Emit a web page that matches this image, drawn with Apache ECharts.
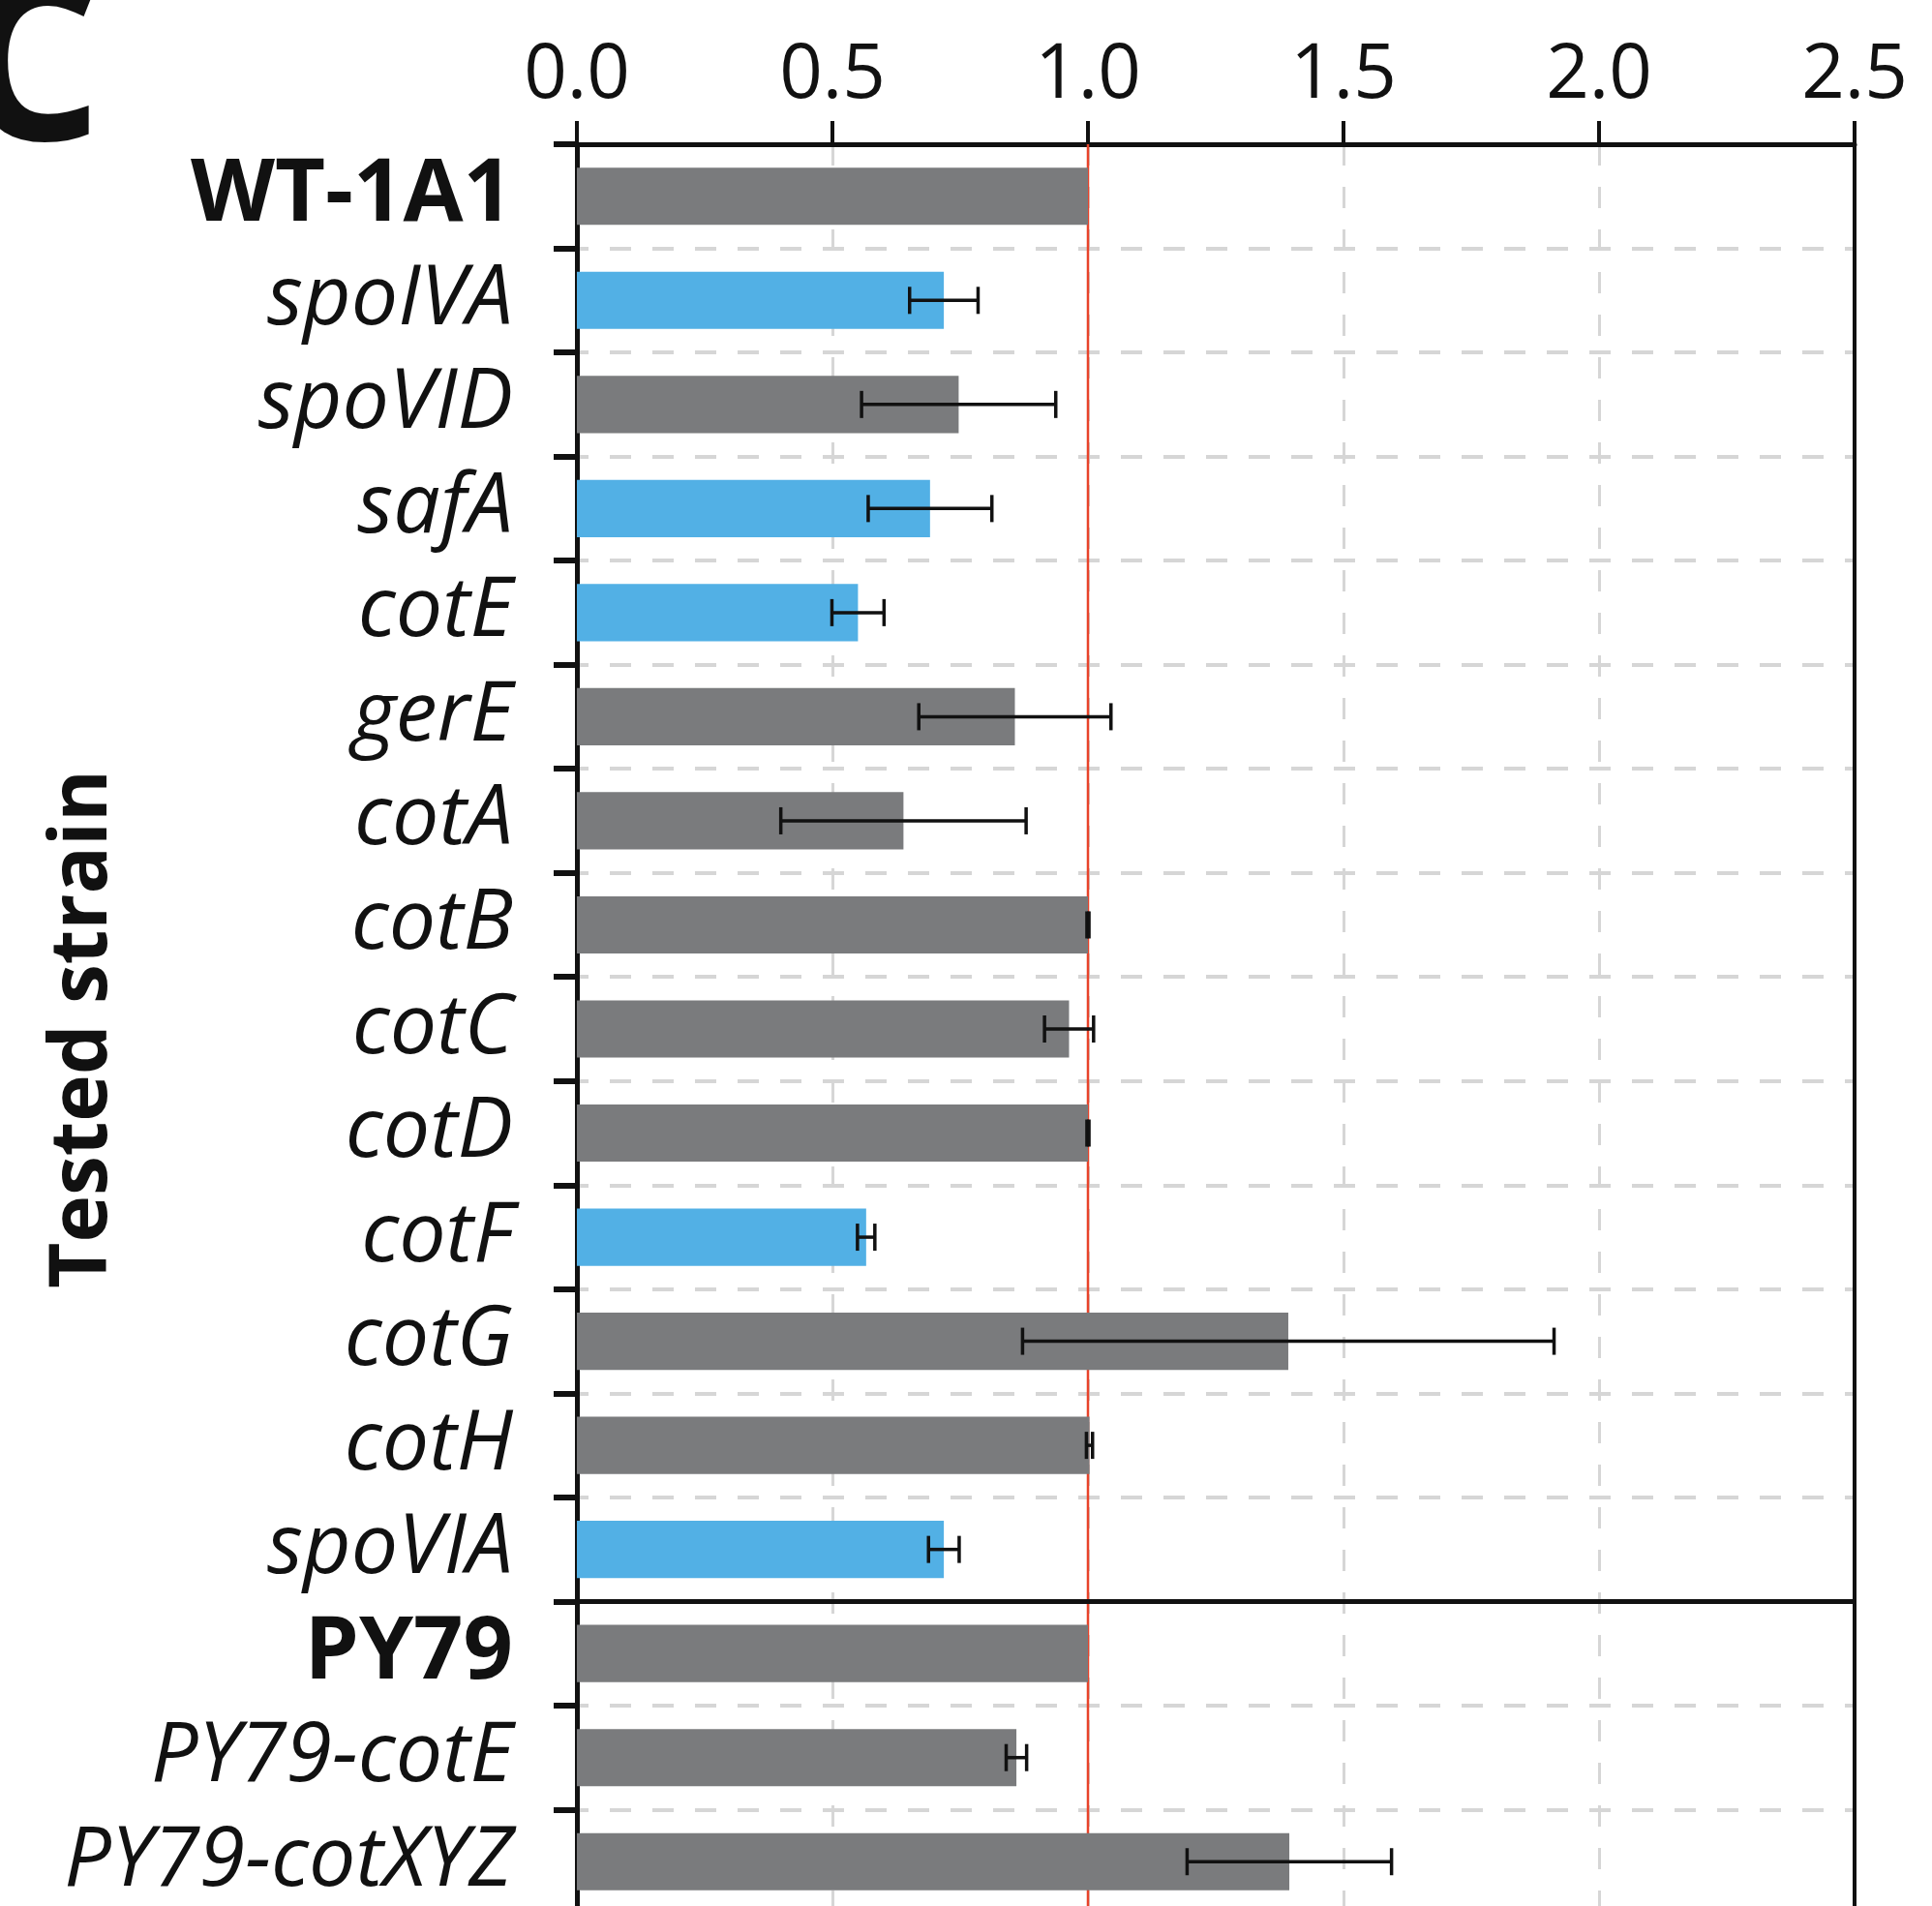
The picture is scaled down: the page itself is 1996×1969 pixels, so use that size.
<!DOCTYPE html>
<html><head><meta charset="utf-8">
<script src="https://cdn.jsdelivr.net/npm/echarts@6/dist/echarts.min.js"></script>
<style>html,body{margin:0;padding:0;background:#fff}#c{width:1996px;height:1969px}</style>
</head><body><div id="c"></div>
<script>
// ---- data ----
const categories = ['WT-1A1','spoIVA','spoVID','safA','cotE','gerE','cotA','cotB','cotC','cotD','cotF','cotG','cotH','spoVIA','PY79','PY79-cotE','PY79-cotXYZ'];
const ratios = [1.0,0.718,0.747,0.691,0.550,0.857,0.639,1.0,0.963,1.0,0.566,1.392,1.003,0.718,1.0,0.860,1.394];
const errors = [0,0.067,0.190,0.121,0.051,0.188,0.240,0.002,0.048,0.002,0.017,0.520,0.006,0.030,0,0.020,0.200];
const highlighted = ['spoIVA','safA','cotE','cotF','spoVIA'];
const boldCategories = ['WT-1A1','PY79'];
const referenceValue = [1.0];
const groupStart = ['PY79'];
const axisMin = 0, axisMax = 2.5, axisStep = 0.5;
const axisTitle = 'Tested strain';
const panelLetter = 'C';

// ---- chart ----
const GRAY = '#7a7b7d', BLUE = '#52b0e5', INK = '#111111', GRID = '#d6d6d6';
const FONT = '"Open Sans", "Noto Sans", sans-serif';
const chart = echarts.init(document.getElementById('c'), null, {renderer: 'canvas'});

const option = {
  animation: false,
  backgroundColor: '#ffffff',
  grid: {left: 596, top: 149, width: 1320, height: 1828, show: false, containLabel: false, outerBoundsMode: 'none'},
  xAxis: {
    type: 'value', position: 'top', min: axisMin, max: axisMax, interval: axisStep,
    axisLine: {show: true, lineStyle: {color: INK, width: 5}},
    axisTick: {show: true, length: 24, lineStyle: {color: INK, width: 4}},
    axisLabel: {margin: 31, color: INK, fontFamily: FONT, fontSize: 78, formatter: v => v.toFixed(1)},
    splitLine: {show: true, showMinLine: false, showMaxLine: false, lineStyle: {color: GRID, width: 3, type: [22, 22]}}
  },
  yAxis: {
    type: 'category', inverse: true, data: categories,
    axisLine: {show: true, lineStyle: {color: INK, width: 5}},
    axisTick: {show: true, length: 24, lineStyle: {color: INK, width: 6}},
    axisLabel: {
      margin: 66, interval: 0,
      formatter: v => boldCategories.includes(v) ? '{b|' + v + '}' : '{i|' + v + '}',
      rich: {
        b: {fontFamily: FONT, fontWeight: 'bold', fontSize: 90, color: INK},
        i: {fontFamily: FONT, fontStyle: 'italic', fontSize: 86, color: INK}
      }
    },
    splitLine: {show: true, lineStyle: {color: GRID, width: 4, type: [22, 22], dashOffset: 10}},
    name: axisTitle, nameLocation: 'middle', nameGap: 468, nameMoveOverlap: false,
    nameTextStyle: {fontFamily: FONT, fontWeight: 'bold', fontSize: 82, color: INK}
  },
  graphic: [{
    type: 'text', x: 106, y: 195, z: 10,
    style: {text: panelLetter, font: 'bold 231px ' + FONT, fill: INK, align: 'right', verticalAlign: 'bottom'}
  }],
  series: [
    {
      type: 'custom', z: 1, silent: true,
      data: referenceValue.map(v => [v, 0]),
      renderItem: (params, api) => {
        const cs = params.coordSys;
        const x = api.coord([api.value(0), 0])[0];
        return {type: 'line', shape: {x1: x, y1: cs.y, x2: x, y2: cs.y + cs.height},
                style: {stroke: '#e8432a', lineWidth: 2.5}};
      }
    },
    {
      type: 'bar', z: 2, barWidth: '55%',
      data: ratios.map((v, i) => ({value: v, itemStyle: {color: highlighted.includes(categories[i]) ? BLUE : GRAY}}))
    },
    {
      type: 'custom', z: 3, silent: true,
      data: ratios.map((v, i) => [v, i, errors[i]]),
      encode: {x: 0, y: 1},
      renderItem: (params, api) => {
        const m = api.value(0), idx = api.value(1), e = api.value(2);
        if (!e) return null;
        const lo = api.coord([m - e, idx]), hi = api.coord([m + e, idx]);
        const cap = 14;
        const st = {stroke: INK, lineWidth: 3.5};
        return {type: 'group', children: [
          {type: 'line', shape: {x1: lo[0], y1: lo[1], x2: hi[0], y2: hi[1]}, style: st},
          {type: 'line', shape: {x1: lo[0], y1: lo[1] - cap, x2: lo[0], y2: lo[1] + cap}, style: st},
          {type: 'line', shape: {x1: hi[0], y1: hi[1] - cap, x2: hi[0], y2: hi[1] + cap}, style: st}
        ]};
      }
    },
    {
      type: 'custom', z: 4, silent: true,
      data: groupStart.map(c => [axisMin, categories.indexOf(c)]),
      encode: {x: 0, y: 1},
      renderItem: (params, api) => {
        const idx = api.value(1);
        const cs = params.coordSys;
        const p0 = api.coord([axisMin, idx]), p1 = api.coord([axisMax, idx]);
        const band = api.size([0, 1])[1];
        const y = p0[1] - band / 2;
        return {type: 'group', children: [
          {type: 'line', shape: {x1: p0[0] - 24, y1: y, x2: p1[0], y2: y}, style: {stroke: INK, lineWidth: 5}},
          {type: 'line', shape: {x1: p1[0], y1: cs.y, x2: p1[0], y2: cs.y + cs.height}, style: {stroke: INK, lineWidth: 4}}
        ]};
      }
    }
  ]
};
chart.setOption(option);
</script></body></html>
